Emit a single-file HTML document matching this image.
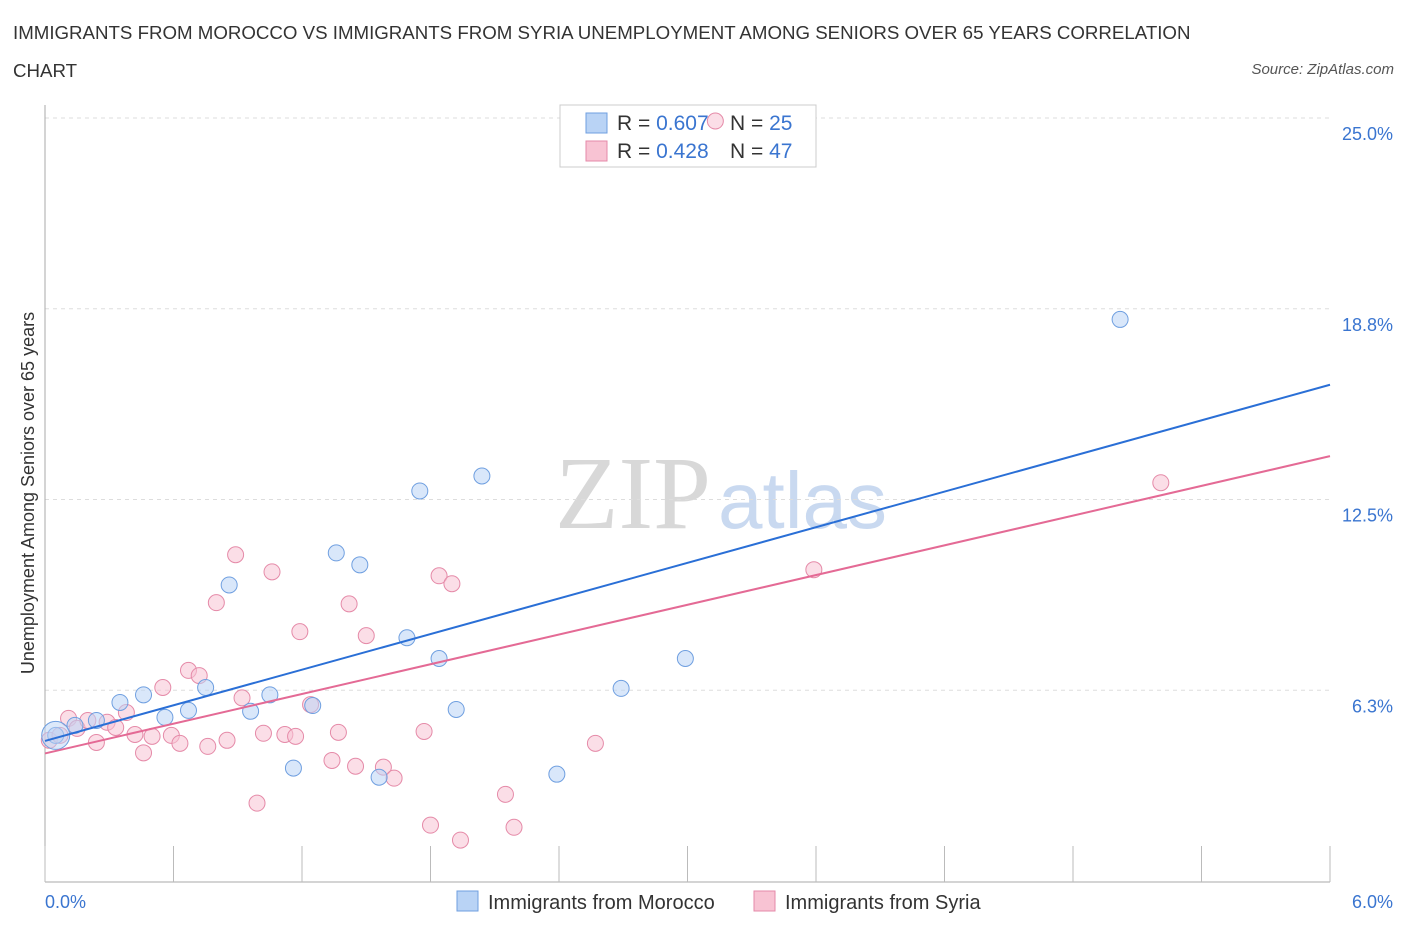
<!DOCTYPE html>
<html><head><meta charset="utf-8">
<style>
body{margin:0;background:#fff;font-family:"Liberation Sans",sans-serif;}
#wrap{position:relative;width:1406px;height:930px;overflow:hidden;}
.t{position:absolute;color:#333;}
</style></head>
<body><div id="wrap">
<div class="t" style="left:13px;top:14px;font-size:18.7px;line-height:38px;width:1220px;">IMMIGRANTS FROM MOROCCO VS IMMIGRANTS FROM SYRIA UNEMPLOYMENT AMONG SENIORS OVER 65 YEARS CORRELATION CHART</div>
<div class="t" style="right:12px;top:61px;font-size:15px;font-style:italic;color:#555;">Source: ZipAtlas.com</div>
<svg id="svg" width="1406" height="930" style="position:absolute;left:0;top:0"></svg>
</div>
<script>
const yTicks=[6.25,12.5,18.75,25];
const yTickLabels=["6.3%","12.5%","18.8%","25.0%"];
const xTickLabels=["0.0%","6.0%"];
const moroccoX=[0.05,0.14,0.24,0.35,0.46,0.56,0.67,0.75,0.86,0.96,1.05,1.16,1.25,1.36,1.47,1.56,1.69,1.75,1.84,1.92,2.04,2.39,2.69,2.99,5.02];
const moroccoY=[4.77,5.1,5.26,5.85,6.1,5.36,5.59,6.34,9.7,5.56,6.1,3.7,5.75,10.75,10.36,3.4,7.97,12.78,7.29,5.62,13.27,3.5,6.31,7.29,18.4];
const syriaX=[0.02,0.07,0.11,0.15,0.2,0.24,0.29,0.33,0.38,0.42,0.46,0.5,0.55,0.59,0.63,0.67,0.72,0.76,0.8,0.85,0.89,0.92,0.99,1.02,1.06,1.12,1.17,1.19,1.24,1.34,1.37,1.42,1.45,1.5,1.58,1.63,1.77,1.8,1.84,1.9,1.94,2.15,2.19,2.57,3.13,3.59,5.21];
const syriaY=[4.61,4.77,5.33,5.0,5.26,4.54,5.2,5.03,5.52,4.8,4.2,4.74,6.34,4.77,4.51,6.9,6.73,4.41,9.12,4.61,10.69,6.0,2.55,4.84,10.13,4.8,4.74,8.17,5.78,3.95,4.87,9.08,3.76,8.04,3.73,3.37,4.9,1.83,10.0,9.74,1.34,2.84,1.76,4.51,24.9,10.2,13.05];
const moroccoTrend=[4.59,16.26];
const syriaTrend=[4.18,13.92];
const S="http://www.w3.org/2000/svg",svg=document.getElementById('svg');
const X0=45,X1=1330,Y0=881,Y25=118;
const xs=v=>X0+v/6*(X1-X0), ys=v=>Y0-v/25*(Y0-Y25);
function el(t,a,p){const e=document.createElementNS(S,t);for(const k in a)e.setAttribute(k,a[k]);(p||svg).appendChild(e);return e;}
let w=el('text',{x:555,y:528,'font-size':104,fill:'#d8d8d8','font-family':'Liberation Serif, serif'});w.textContent='ZIP';


let w2=el('text',{x:718,y:528,'font-size':80,fill:'#c9d9f0','font-family':'Liberation Sans, sans-serif'});w2.textContent='atlas';


yTicks.forEach((v,i)=>{
 const g=el('line',{x1:X0,x2:1330,y1:ys(v),y2:ys(v),stroke:'#ddd','stroke-dasharray':'4,4'});
 
 
 const t=el('text',{x:1393,y:ys(v)+22,'text-anchor':'end','font-size':18,fill:'#3a75d0'});t.textContent=yTickLabels[i];
 
 
});
el('line',{x1:X0,x2:X0,y1:105,y2:Y0+1,stroke:'#aaa'});
el('line',{x1:X0,x2:1330,y1:Y0+1,y2:Y0+1,stroke:'#aaa'});
for(let i=0;i<=10;i++){const x=X0+i*(X1-X0)/10;const tk=el('line',{x1:x,x2:x,y1:846,y2:882,stroke:'#bbb'});
 
 }
[[0,'start',45],[6,'end',1393]].forEach((d,i)=>{const t=el('text',{x:d[2],y:908,'text-anchor':d[1],'font-size':18,fill:'#3a75d0'});t.textContent=xTickLabels[i];
 
 });
const yl=el('text',{x:34,y:493,'font-size':18,fill:'#333',transform:'rotate(-90 34 493)','text-anchor':'middle'});yl.textContent='Unemployment Among Seniors over 65 years';


// stats legend (behind points)
const lg=el('rect',{x:560,y:105,width:256,height:62,fill:'#fff',stroke:'#ccc'});


[['#b9d3f5','#6f9fe0','0.607','25',123],['#f8c3d3','#e58aa8','0.428','47',151]].forEach(d=>{
 const r=el('rect',{x:586,y:d[4]-10,width:21,height:20,fill:d[0],stroke:d[1]});
 
 
 const t=el('text',{x:617,y:d[4]+7,'font-size':21,fill:'#333'});
 t.innerHTML='R = <tspan fill="#3a75d0">'+d[2]+'</tspan><tspan x="730">N = </tspan><tspan fill="#3a75d0">'+d[3]+'</tspan>';
 
 
});
function pts(xa,ya,fill,stroke,name){xa.forEach((v,i)=>{const c=el('circle',{cx:xs(v),cy:ys(ya[i]),r:8,fill:fill,stroke:stroke,'stroke-width':1,'fill-opacity':0.55});
 
 });}
pts(syriaX,syriaY,'#f8c3d3','#e58aa8','syria-point');
pts(moroccoX,moroccoY,'#b9d3f5','#6f9fe0','morocco-point');
const big=el('circle',{cx:xs(0.05),cy:ys(4.77),r:14,fill:'#b9d3f5','fill-opacity':0.5,stroke:'#6f9fe0'});


const l1=el('line',{x1:xs(0),y1:ys(moroccoTrend[0]),x2:xs(6),y2:ys(moroccoTrend[1]),stroke:'#2a6fd6','stroke-width':2});


const l2=el('line',{x1:xs(0),y1:ys(syriaTrend[0]),x2:xs(6),y2:ys(syriaTrend[1]),stroke:'#e46a95','stroke-width':2});


[['#b9d3f5','#6f9fe0','Immigrants from Morocco',457],['#f8c3d3','#e58aa8','Immigrants from Syria',754]].forEach(d=>{
 const r=el('rect',{x:d[3],y:891,width:21,height:20,fill:d[0],stroke:d[1]});
 
 
 const t=el('text',{x:d[3]+31,y:909,'font-size':20,fill:'#333'});t.textContent=d[2];
 
 
});
</script></body></html>
